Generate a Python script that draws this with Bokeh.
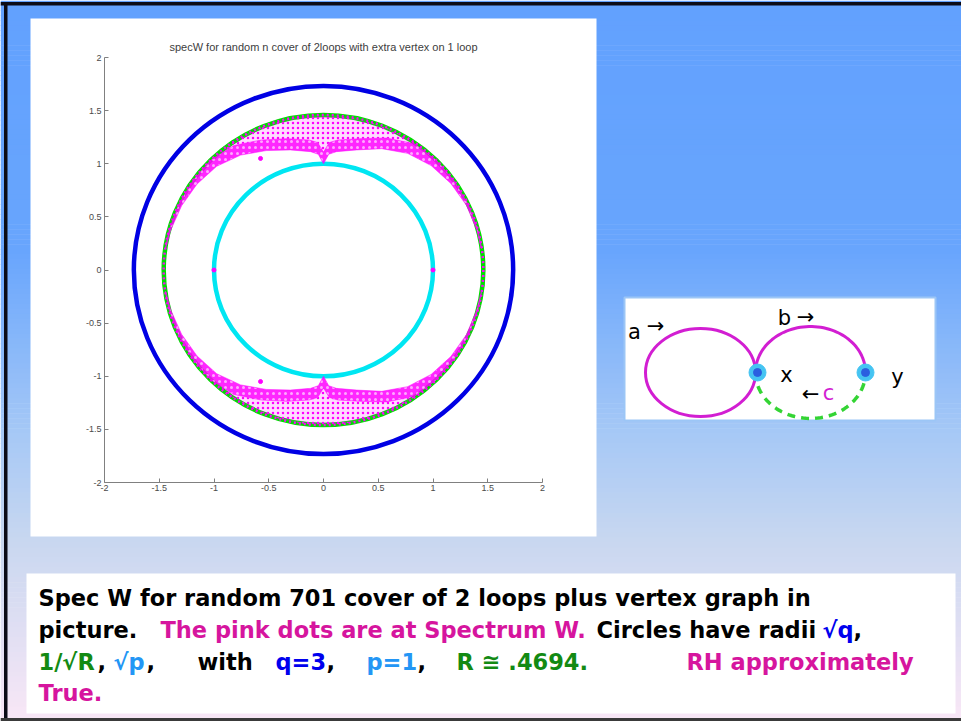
import numpy as np
from bokeh.plotting import figure
from bokeh.models import Range1d, LinearAxis, FixedTicker
from bokeh.core.properties import value
from bokeh.embed import file_html
from bokeh.resources import INLINE

# ---------------------------------------------------------------- data
# graph parameters (Ihara zeta / Spectrum W of a random 701-cover)
q = 3
p_deg = 1
R = 0.4694

r_sqrt_q = np.sqrt(q)          # outer blue circle
r_inv_sqrt_R = 1 / np.sqrt(R)  # green circle
r_sqrt_p = np.sqrt(p_deg)      # inner cyan circle

# envelope of the Spectrum W cloud in the upper half plane
# (angle in degrees, inner radius); the outer edge is the 1/sqrt(R) circle,
# the lower half plane is the complex-conjugate mirror image
cloud_theta_deg = [8, 15, 25, 35, 45, 55, 65, 75, 84, 87.5, 90,
                   92.5, 96, 105, 115, 125, 135, 145, 155, 165, 172]
cloud_r_inner = [1.455, 1.45, 1.44, 1.42, 1.39, 1.34, 1.26, 1.17, 1.12, 1.09, 1.0,
                 1.09, 1.12, 1.17, 1.24, 1.32, 1.38, 1.41, 1.43, 1.445, 1.455]

# isolated eigenvalues
stray_x = [-1.0, 1.0, -0.575, -0.575]
stray_y = [0.0, 0.0, 1.05, -1.05]

tick_values = [-2, -1.5, -1, -0.5, 0, 0.5, 1, 1.5, 2]
tick_labels = ["-2", "-1.5", "-1", "-0.5", "0", "0.5", "1", "1.5", "2"]

title_text = "specW for random n cover of 2loops with extra vertex on 1 loop"

# ---------------------------------------------------------------- page geometry
W, H = 961, 721
AX_LEFT, AX_RIGHT = 104, 542   # pixel columns of x = -2 and x = 2
AX_TOP, AX_BOTTOM = 57, 482    # pixel rows of y = 2 and y = -2
SX = (AX_RIGHT - AX_LEFT) / 4.0
SY = (AX_BOTTOM - AX_TOP) / 4.0
CX = (AX_LEFT + AX_RIGHT) / 2.0
CY = (AX_TOP + AX_BOTTOM) / 2.0


def X(px):
    return (np.asarray(px, dtype=float) - CX) / SX


def Y(py):
    return (CY - np.asarray(py, dtype=float)) / SY


def DX(dpx):
    return dpx / SX


def DY(dpy):
    return dpy / SY


p = figure(width=W, height=H, output_backend="svg", toolbar_location=None,
           x_range=Range1d(float(X(0)), float(X(W))),
           y_range=Range1d(float(Y(H)), float(Y(0))),
           x_axis_location=None, y_axis_location=None,
           min_border=0, outline_line_color=None)
p.grid.visible = False
p.background_fill_color = "white"
p.border_fill_color = "white"


def box(l, t, r, b, **kw):
    p.quad(left=[float(X(l))], right=[float(X(r))], top=[float(Y(t))],
           bottom=[float(Y(b))], **kw)


# slide background: vertical gradient
stops_y = [0, 250, 430, 540, 721]
stops_c = [(98, 161, 254), (104, 165, 253), (165, 200, 246), (200, 215, 240), (249, 231, 246)]
n_strips = 145
edges = np.linspace(0, H, n_strips + 1)
mids = (edges[:-1] + edges[1:]) / 2
cols = []
for m in mids:
    rgb = [np.interp(m, stops_y, [c[k] for c in stops_c]) for k in range(3)]
    cols.append("#%02x%02x%02x" % tuple(int(round(v)) for v in rgb))
p.quad(left=[float(X(0))] * n_strips, right=[float(X(W))] * n_strips,
       top=list(Y(edges[:-1])), bottom=list(Y(edges[1:] + 0.6)),
       fill_color=cols, line_color=None)

# slide frame
box(0, 1.5, W, 5, fill_color="#0b0b16", line_color=None)
box(3.5, 1.5, 7, H, fill_color="#0b0b16", line_color=None)
box(0, 717.5, W, H, fill_color="#3a3a3a", line_color=None)

# white panels
box(30, 18, 596, 536, fill_color="white", line_color=None)
box(26, 573, 955, 713, fill_color="white", line_color=None)
box(624, 297, 935, 420, fill_color="white", line_color="#9cc6f6", line_width=2)

# ---------------------------------------------------------------- spectrum plot
p.ellipse(x=[0], y=[0], width=[2 * r_sqrt_q], height=[2 * r_sqrt_q],
          fill_color=None, line_color="#0000e4", line_width=4.5)
p.ellipse(x=[0], y=[0], width=[2 * r_sqrt_p], height=[2 * r_sqrt_p],
          fill_color=None, line_color="#00e6f2", line_width=4.5)
p.ellipse(x=[0], y=[0], width=[2 * r_inv_sqrt_R], height=[2 * r_inv_sqrt_R],
          fill_color=None, line_color="#00dc00", line_width=4.5)

theta = np.radians(cloud_theta_deg)
r_in = np.array(cloud_r_inner)
DENSE_DEPTH = 0.11
r_mid = np.minimum(r_in + DENSE_DEPTH, r_inv_sqrt_R)
r_out = np.full_like(r_in, r_inv_sqrt_R)


def band(ra, rb, sign):
    xs = np.concatenate([ra * np.cos(theta), (rb * np.cos(theta))[::-1]])
    ys = sign * np.concatenate([ra * np.sin(theta), (rb * np.sin(theta))[::-1]])
    return list(xs), list(ys)


sparse = [band(r_mid, r_out, s) for s in (1, -1)]
dense = [band(r_in, r_mid, s) for s in (1, -1)]
p.patches(xs=[b[0] for b in sparse], ys=[b[1] for b in sparse],
          fill_color="#ff00ff", fill_alpha=0.14, line_color=None,
          hatch_pattern="dot", hatch_color="#ff00ff", hatch_scale=5, hatch_weight=2.6)
p.patches(xs=[b[0] for b in dense], ys=[b[1] for b in dense],
          fill_color="#ff00ff", fill_alpha=0.85, line_color="#ff00ff",
          line_alpha=0.5, line_width=1,
          hatch_pattern="dot", hatch_color="white", hatch_scale=6, hatch_weight=1.2,
          hatch_alpha=0.6)
# eigenvalues lying on the 1/sqrt(R) circle
p.ellipse(x=[0], y=[0], width=[2 * r_inv_sqrt_R], height=[2 * r_inv_sqrt_R],
          fill_color=None, line_color="#ff00ff", line_width=2.5, line_dash="2 3")
p.scatter(x=stray_x, y=stray_y, size=4, color="#ff00ff")

axis_style = dict(axis_line_color="#808080", major_tick_line_color="#808080",
                  major_tick_in=4, major_tick_out=0, minor_tick_line_color=None,
                  major_label_text_font="Liberation Sans",
                  major_label_text_font_size="9px",
                  major_label_text_color="#4a4a4a",
                  major_label_overrides=dict(zip(tick_values, tick_labels)),
                  bounds=(-2, 2))
xaxis = LinearAxis(fixed_location=-2, ticker=FixedTicker(ticks=tick_values),
                   major_label_standoff=2, **axis_style)
yaxis = LinearAxis(fixed_location=-2, ticker=FixedTicker(ticks=tick_values),
                   major_label_standoff=3, **axis_style)
p.add_layout(xaxis, "below")
p.add_layout(yaxis, "left")

p.text(x=[0], y=[float(Y(46))], text=[title_text], text_font=value("Liberation Sans"),
       text_font_size="11px", text_color="#404040", text_align="center",
       text_baseline="middle")

# ---------------------------------------------------------------- graph diagram
MAG = "#d21ed2"
GRN = "#34d434"
# left loop a
p.ellipse(x=[float(X(700))], y=[float(Y(372))], width=[DX(110)], height=[DY(88)],
          fill_color=None, line_color=MAG, line_width=3)
# right loop: upper half b (solid), lower half c (dashed)
t_up = np.linspace(0, np.pi, 60)
t_dn = np.linspace(np.pi, 2 * np.pi, 60)
p.line(x=list(X(810 + 55 * np.cos(t_up))), y=list(Y(372 - 46 * np.sin(t_up))),
       line_color=MAG, line_width=3)
p.line(x=list(X(810 + 55 * np.cos(t_dn))), y=list(Y(372 - 46 * np.sin(t_dn))),
       line_color=GRN, line_width=3.5, line_dash="8 6")
# vertices x and y
p.scatter(x=list(X([757, 865])), y=list(Y([372, 372])), size=17, color="#45c4f2")
p.scatter(x=list(X([757, 865])), y=list(Y([372, 372])), size=8, color="#2a5fe0")

diag_font = value("DejaVu Sans")
diag_labels = [("a", 634, 331, "black"), ("\u2192", 655, 325, "black"),
               ("b", 784, 317, "black"), ("\u2192", 805, 316, "black"),
               ("x", 786, 374, "black"), ("y", 897, 376, "black"),
               ("\u2190", 810, 393, "black"), ("c", 828, 392, MAG)]
for txt, lx, ly, col in diag_labels:
    p.text(x=[float(X(lx))], y=[float(Y(ly))], text=[txt], text_font=diag_font,
           text_font_size="21px", text_color=col, text_align="center",
           text_baseline="middle")

# ---------------------------------------------------------------- caption
BLACK, PINK, BLUE, LBLUE, GREEN = "#000000", "#d6159e", "#0000ee", "#2396f5", "#138a13"
caption = [
    ("Spec W for random 701 cover of 2 loops plus vertex graph in", BLACK, 38, 597),
    ("picture.", BLACK, 38, 629),
    ("The pink dots are at Spectrum W.", PINK, 160, 629),
    ("Circles have radii", BLACK, 596, 629),
    ("\u221aq", BLUE, 822, 629), (",", BLACK, 853, 629),
    ("1/\u221aR", GREEN, 38, 661), (",", BLACK, 97, 661),
    ("\u221ap", LBLUE, 113, 661), (",", BLACK, 146, 661),
    ("with", BLACK, 197, 661),
    ("q=3", BLUE, 275, 661), (",", BLACK, 326, 661),
    ("p=1", LBLUE, 366, 661), (",", BLACK, 417, 661),
    ("R \u2245 .4694.", GREEN, 456, 661),
    ("RH  approximately", PINK, 686, 661),
    ("True.", PINK, 38, 692),
]
cap_font = value("DejaVu Sans")
for txt, col, lx, ly in caption:
    p.text(x=[float(X(lx))], y=[float(Y(ly))], text=[txt], text_font=cap_font,
           text_font_style="bold", text_font_size="22.5px", text_color=col,
           text_align="left", text_baseline="middle")

open("out.html", "w").write(file_html(p, INLINE))
